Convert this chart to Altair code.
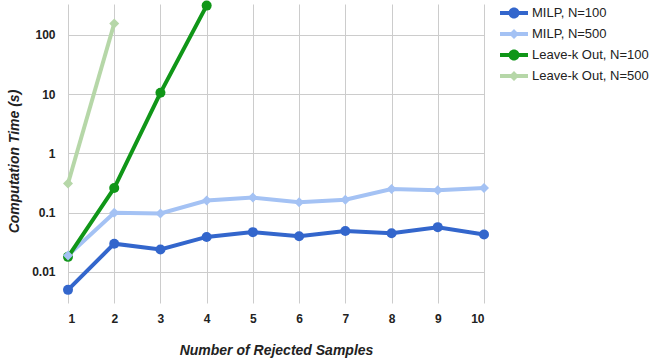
import altair as alt
import pandas as pd

x_vals = list(range(1, 11))
milp_100 = [0.005, 0.030, 0.024, 0.039, 0.047, 0.040, 0.049, 0.045, 0.057, 0.043]
milp_500 = [0.019, 0.100, 0.097, 0.160, 0.180, 0.150, 0.165, 0.250, 0.240, 0.260]
lko_100 = [0.018, 0.26, 10.5, 310]
lko_500 = [0.31, 155]

series_names = ["MILP, N=100", "MILP, N=500", "Leave-k Out, N=100", "Leave-k Out, N=500"]
series_colors = ["#3366cc", "#a4c2f4", "#109618", "#b6d7a8"]
series_n = [100, 500, 100, 500]
y_ticks = [0.01, 0.1, 1, 10, 100]

rows = []
for name, n, vals in zip(series_names, series_n, [milp_100, milp_500, lko_100, lko_500]):
    for xv, yv in zip(x_vals, vals):
        rows.append({"k": xv, "t": yv, "series": name, "n": n})
df = pd.DataFrame(rows)

FONT = "Liberation Sans"

path_circle = ("M-1.4,-0.2L1.4,-0.2L1.4,0.2L-1.4,0.2Z "
               "M-0.55,0A0.55,0.55,0,1,1,0.55,0A0.55,0.55,0,1,1,-0.55,0Z")
path_diamond = ("M-1.4,-0.2L1.4,-0.2L1.4,0.2L-1.4,0.2Z "
                "M0,-0.5L0.5,0L0,0.5L-0.5,0Z")
legend_shapes = [path_circle, path_diamond, path_circle, path_diamond]

color_scale = alt.Scale(domain=series_names, range=series_colors)

x_enc = alt.X("k:Q", scale=alt.Scale(domain=[1, 10], nice=False),
              axis=alt.Axis(values=x_vals, format="d", title="Number of Rejected Samples",
                            grid=True, ticks=False, domain=False, labelPadding=10,
                            titlePadding=19))
y_enc = alt.Y("t:Q", scale=alt.Scale(type="log", domain=[0.003, 330], nice=False),
              axis=alt.Axis(values=y_ticks, format="~g", title="Computation Time (s)",
                            grid=True, ticks=False, domain=False, labelPadding=13,
                            titlePadding=10, titleY=157))

legend = alt.Legend(
    title=None, orient="none", legendX=436, legendY=-1,
    symbolSize=400, symbolOpacity=1, symbolStrokeWidth=0,
    labelFont=FONT, labelFontSize=13, labelColor="#222222",
    labelOffset=8, rowPadding=4, labelLimit=200,
)

color_enc = alt.Color("series:N", scale=color_scale, legend=legend)

lines = alt.Chart(df).mark_line(strokeWidth=4).encode(
    x=x_enc, y=y_enc, color=color_enc, order=alt.Order("k:Q"),
)
circles = alt.Chart(df).transform_filter("datum.n == 100").mark_point(
    filled=True, size=100, opacity=1, shape="circle").encode(
    x=x_enc, y=y_enc, color=color_enc,
)
diamonds = alt.Chart(df).transform_filter("datum.n == 500").mark_point(
    filled=True, size=100, opacity=1, shape="diamond").encode(
    x=x_enc, y=y_enc, color=color_enc,
)
legend_layer = alt.Chart(df).mark_point(filled=True, opacity=0).encode(
    x=x_enc, y=y_enc, color=color_enc,
    shape=alt.Shape("series:N", scale=alt.Scale(domain=series_names, range=legend_shapes),
                    legend=legend),
)

chart = alt.layer(lines, circles, diamonds, legend_layer).properties(
    width=416, height=299,
    autosize=alt.AutoSizeParams(type="none"),
    padding={"left": 68, "top": 4, "right": 166, "bottom": 61},
    background="white",
).configure_view(stroke=None).configure_axis(
    gridColor="#cccccc", gridWidth=1,
    labelFont=FONT, labelFontSize=12, labelFontWeight="bold", labelColor="#222222",
    titleFont=FONT, titleFontSize=14, titleFontWeight="bold", titleFontStyle="italic",
    titleColor="#222222",
)

chart.save("out.html", embed_options={"renderer": "svg", "actions": False})
